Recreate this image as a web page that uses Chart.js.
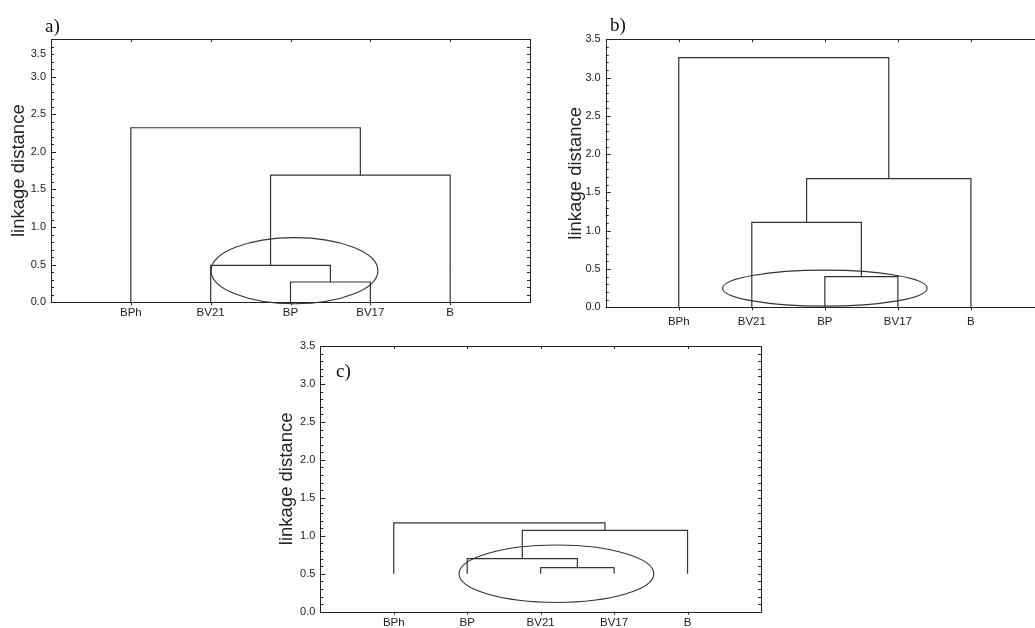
<!DOCTYPE html>
<html><head><meta charset="utf-8">
<script src="https://cdn.jsdelivr.net/npm/chart.js@4.4.1/dist/chart.umd.min.js"></script>
<style>
html,body{margin:0;padding:0;background:#fff;overflow:hidden;width:1035px;height:628px;position:relative}
canvas{position:absolute}
.pl{position:absolute;font-family:"Liberation Serif","DejaVu Serif",serif;font-size:19px;line-height:1;color:#111;z-index:5}
</style></head><body>
<canvas id="ca" width="540" height="325" style="left:0;top:0"></canvas>
<canvas id="cb" width="520" height="335" style="left:540px;top:0"></canvas>
<canvas id="cc" width="511" height="308" style="left:260px;top:320px"></canvas>
<div class="pl" style="left:45px;top:16px">a)</div>
<div class="pl" style="left:610px;top:15px">b)</div>
<div class="pl" style="left:336px;top:361px">c)</div>
<script>
// ---- data ----
const categoriesA = ['BPh','BV21','BP','BV17','B'];
const categoriesB = ['BPh','BV21','BP','BV17','B'];
const categoriesC = ['BPh','BP','BV21','BV17','B'];
// merge pairs: nodes 0-4 are leaves (in category order), 5.. are earlier merges
const mergePairsA = [[2,3],[1,5],[6,4],[0,7]];
const mergePairsB = [[2,3],[1,5],[6,4],[0,7]];
const mergePairsC = [[2,3],[1,5],[6,4],[0,7]];
const heightsA = [0.27,0.49,1.69,2.32];
const heightsB = [0.40,1.11,1.68,3.26];
const heightsC = [0.58,0.70,1.07,1.17];
const leafBaseA = 0, leafBaseB = 0, leafBaseC = 0.5;
const yTickValuesA = [0,0.5,1,1.5,2,2.5,3,3.3];
const yTickLabelsA = ['0.0','0.5','1.0','1.5','2.0','2.5','3.0','3.5'];
const yTickValuesBC = [0,0.5,1,1.5,2,2.5,3,3.5];
const yTickLabelsBC = ['0.0','0.5','1.0','1.5','2.0','2.5','3.0','3.5'];
// highlighted group ellipse: centre x, centre y, half-width, half-height (data units)
const ellipseA = [3.05,0.42,1.045,0.44];
const ellipseB = [3.0,0.25,1.40,0.235];
const ellipseC = [3.215,0.50,1.326,0.378];
const yTitle = 'linkage distance';

function linkDatasets(pairs, heights, base){
  const xs=[1,2,3,4,5], hs=[base,base,base,base,base];
  const ds=[];
  pairs.forEach(function(p,i){
    const l=p[0], r=p[1], h=heights[i];
    ds.push({data:[{x:xs[l],y:hs[l]},{x:xs[l],y:h},{x:xs[r],y:h},{x:xs[r],y:hs[r]}],
      showLine:true,borderColor:'#333',borderWidth:1.2,pointRadius:0,fill:false,tension:0});
    xs.push((xs[l]+xs[r])/2); hs.push(h);
  });
  return ds;
}

const framePlugin = {
  id:'frame',
  afterDatasetsDraw(chart){
    const o = chart.options.plugins.frame;
    const ctx=chart.ctx, a=chart.chartArea, x=chart.scales.x, y=chart.scales.y;
    ctx.save();
    ctx.strokeStyle='#222'; ctx.lineWidth=1;
    ctx.strokeRect(Math.round(a.left)+0.5, Math.round(a.top)+0.5, Math.round(a.right-a.left), Math.round(a.bottom-a.top));
    ctx.beginPath();
    for(let k=0;k<=35;k++){
      const py=Math.round(y.getPixelForValue(k/10))+0.5;
      if(py<a.top+1) continue;
      const len=(k%5===0)?5:3;
      ctx.moveTo(a.left,py); ctx.lineTo(a.left+len,py);
      if(o.right){ ctx.moveTo(a.right,py); ctx.lineTo(a.right-3,py); }
    }
    o.cats.forEach(function(c,i){
      const px=Math.round(x.getPixelForValue(i+1))+0.5;
      ctx.moveTo(px,a.top); ctx.lineTo(px,a.top+3);
      ctx.moveTo(px,a.bottom); ctx.lineTo(px,a.bottom+3);
    });
    ctx.stroke();
    const e=o.ellipse;
    const cx=x.getPixelForValue(e[0]), cy=y.getPixelForValue(e[1]);
    const rx=x.getPixelForValue(e[0]+e[2])-cx, ry=cy-y.getPixelForValue(e[1]+e[3]);
    ctx.strokeStyle='#333'; ctx.lineWidth=1.1;
    ctx.beginPath(); ctx.ellipse(cx,cy,rx,ry,0,0,2*Math.PI); ctx.stroke();
    ctx.restore();
  }
};

function makePanel(id, cats, pairs, heights, base, yVals, yLabs, ell, geo){
  new Chart(document.getElementById(id), {
    type:'scatter',
    data:{datasets:linkDatasets(pairs, heights, base)},
    plugins:[framePlugin],
    options:{
      responsive:false, animation:false,
      layout:{padding:{left:geo.pl, top:geo.pt, right:geo.pr, bottom:0}},
      plugins:{legend:{display:false}, tooltip:{enabled:false}, frame:{cats:cats, ellipse:ell, right:geo.right}},
      scales:{
        x:{type:'linear', min:0, max:6,
          grid:{display:false, drawTicks:false}, border:{display:false},
          afterBuildTicks:function(s){ s.ticks=cats.map(function(c,i){return {value:i+1};}); },
          afterFit:function(s){ s.height=geo.xh; },
          ticks:{autoSkip:false, maxRotation:0, padding:geo.xpad, color:'#222',
            font:{family:'"Liberation Sans", Arial, sans-serif', size:11.5},
            callback:function(v,i){ return cats[i]; }}
        },
        y:{type:'linear', min:0, max:3.5,
          grid:{display:false, drawTicks:false}, border:{display:false},
          afterBuildTicks:function(s){ s.ticks=yVals.map(function(v){return {value:v};}); },
          afterFit:function(s){ s.width=geo.yw; },
          ticks:{autoSkip:false, padding:5, color:'#222',
            font:{family:'"Liberation Sans", Arial, sans-serif', size:11},
            callback:function(v,i){ return yLabs[i]; }},
          title:{display:true, text:yTitle, color:'#222', padding:{top:0,bottom:0},
            font:{family:'"Liberation Sans", Arial, sans-serif', size:18.5, lineHeight:1.2}}
        }
      }
    }
  });
}

makePanel('ca', categoriesA, mergePairsA, heightsA, leafBaseA, yTickValuesA, yTickLabelsA, ellipseA,
  {pl:7.4, pt:39, pr:10, xh:22.7, xpad:4, yw:43.6, right:true});
makePanel('cb', categoriesB, mergePairsB, heightsB, leafBaseB, yTickValuesBC, yTickLabelsBC, ellipseB,
  {pl:24.4, pt:39.3, pr:16, xh:27.7, xpad:8, yw:41.3, right:false});
makePanel('cc', categoriesC, mergePairsC, heightsC, leafBaseC, yTickValuesBC, yTickLabelsBC, ellipseC,
  {pl:15.9, pt:26, pr:10, xh:16.3, xpad:4, yw:44.4, right:true});
</script>
</body></html>
